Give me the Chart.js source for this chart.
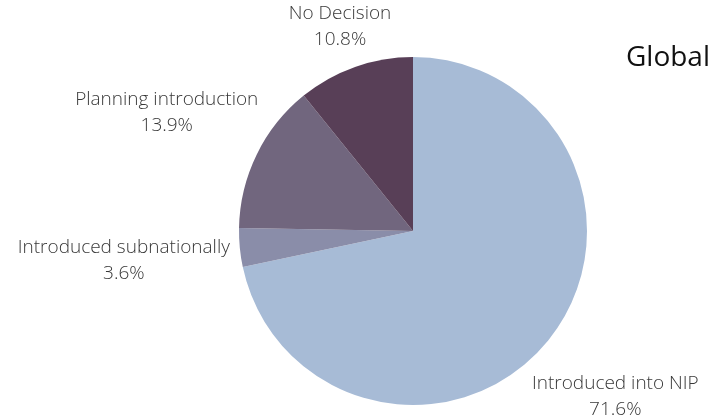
<!DOCTYPE html>
<html>
<head>
<meta charset="utf-8">
<script src="https://cdn.jsdelivr.net/npm/chart.js@4.4.1/dist/chart.umd.min.js"></script>
<style>
  html, body { margin: 0; padding: 0; background: #fff; }
  canvas { display: block; }
</style>
</head>
<body>
<canvas id="chart" width="723" height="418"></canvas>
<script>
// data
const categories = ["Introduced into NIP", "Introduced subnationally", "Planning introduction", "No Decision"]
const shares = [71.6, 3.6, 13.9, 10.8]
const sliceColors = ["#a7bbd6", "#8a8da9", "#71667e", "#583f57"]
const chartTitle = "Global"

const labelFont = "300 19px 'Open Sans'"
const labelColor = "#383838"
const lineGap = 26   // distance between the two label lines
const capH = 14      // cap height of the label font
const labelGap = 9   // space between pie edge and label block

// category name + percent placed outside each slice, along its middle angle
const outsideLabels = {
  id: 'outsideLabels',
  afterDatasetsDraw(chart) {
    const ctx = chart.ctx
    const meta = chart.getDatasetMeta(0)
    ctx.save()
    ctx.font = labelFont
    ctx.fillStyle = labelColor
    ctx.textAlign = 'center'
    ctx.textBaseline = 'alphabetic'
    meta.data.forEach((arc, i) => {
      const p = arc.getProps(['x', 'y', 'startAngle', 'endAngle', 'outerRadius'], true)
      const mid = (p.startAngle + p.endAngle) / 2
      const ux = Math.cos(mid), uy = Math.sin(mid)
      const lines = [categories[i], shares[i].toFixed(1) + '%']
      const w = Math.max(...lines.map(l => ctx.measureText(l).width))
      const h = lineGap + capH
      const ext = Math.abs(ux) * w / 2 + Math.abs(uy) * h / 2
      const d = p.outerRadius + labelGap + ext
      const cx = p.x + ux * d
      const cy = p.y + uy * d
      const first = cy - h / 2 + capH
      lines.forEach((l, k) => ctx.fillText(l, cx, first + k * lineGap))
    })
    ctx.restore()
  }
}

// "Global" in the top right corner
const cornerTitle = {
  id: 'cornerTitle',
  afterDraw(chart) {
    const ctx = chart.ctx
    ctx.save()
    ctx.font = "500 28px 'Open Sans'"
    ctx.fillStyle = '#111111'
    ctx.textAlign = 'right'
    ctx.textBaseline = 'alphabetic'
    ctx.fillText(chartTitle, chart.width - 13, 66)
    ctx.restore()
  }
}

new Chart(document.getElementById('chart'), {
  type: 'pie',
  data: {
    labels: categories,
    datasets: [{
      data: shares,
      backgroundColor: sliceColors,
      borderWidth: 0
    }]
  },
  options: {
    responsive: false,
    devicePixelRatio: 1,
    animation: false,
    layout: {
      padding: { top: 57, bottom: 13, left: 239, right: 136 }
    },
    plugins: {
      legend: { display: false },
      tooltip: { enabled: false },
      title: { display: false }
    }
  },
  plugins: [outsideLabels, cornerTitle]
})
</script>
</body>
</html>
